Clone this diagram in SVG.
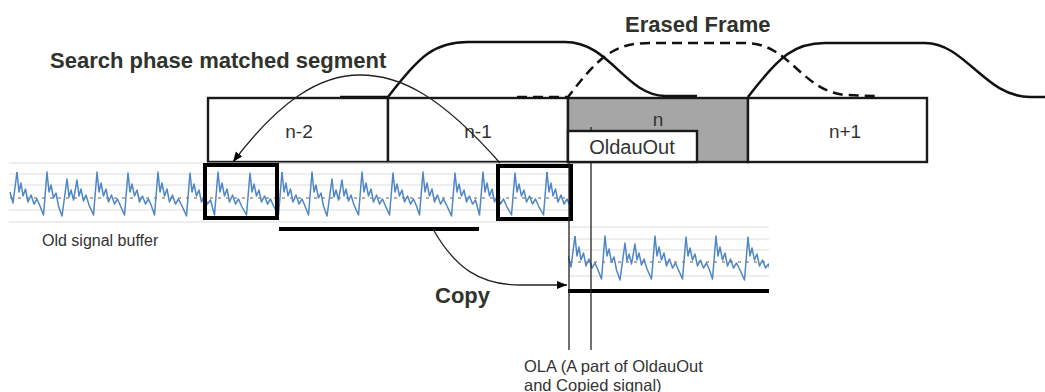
<svg xmlns="http://www.w3.org/2000/svg" width="1045" height="392" viewBox="0 0 1045 392">
<style>
.frame{fill:#fff;stroke:#1a1a1a;stroke-width:2.4}
.lbl{font-family:"Liberation Sans",Arial,sans-serif;fill:#333}
.bold{font-family:"Liberation Sans",Arial,sans-serif;font-weight:bold;fill:#2f332c;font-size:22px}
.grid{stroke:#dcdcdc;stroke-width:1}
.dot{stroke:#b8ad9c;stroke-width:2;stroke-dasharray:3 5}
.wave{fill:none;stroke:#4f86c6;stroke-width:1.5;stroke-linejoin:round}
.win{fill:none;stroke:#111;stroke-width:2.5}
.thin{fill:none;stroke:#222;stroke-width:1.3}
.thick{fill:none;stroke:#000;stroke-width:4}
</style>
<defs>
<marker id="ah" markerUnits="userSpaceOnUse" markerWidth="11" markerHeight="9" refX="10" refY="4" orient="auto">
<path d="M0,0 L10,4 L0,8 z" fill="#000"/>
</marker>
<path id="seg" class="wave" d="M0,-26 L2,-6 L4,-15 L6,-2 L8.5,-9 L11,4 L14,-3 L17,6 L20,1 L23,8 L26.5,17 L30,-26 L32,-6 L34,-13 L36.5,0 L39,-5 L41.5,8 L45,18 L50,-19 L52,-1 L54,-8 L56.5,2 L60,-18 L62,-2 L64,-9 L66.5,3 L69,-3 L72,7 L76.5,17 L80,-26 L82,-6 L84,-15 L86.5,-2 L89,-9 L91.5,4 L94.5,-3 L97.5,6 L100.5,1 L103.5,8 L107.5,17 L111,-25 L113,-6 L115,-14 L117.5,-2 L120,-8 L122.5,4 L125.5,-2 L128.5,6 L131.5,1 L134.5,8 L137.5,17 L141,-26 L143,-6 L145,-15 L147.5,-2 L150,-9 L152.5,4 L155.5,-3 L158.5,6 L161.5,1 L165,8 L169.5,18 L173,-25 L175,-6 L177,-14 L179.5,-2 L182,-8 L184.5,4 L187.5,-2 L190.5,6 L193.5,2 L197.5,17 L201,-26 L203,-6 L205,-15 L207.5,-2 L210,-9 L212.5,4 L215.5,-3 L218.5,6 L221.5,1 L224.5,8 L229.5,17 L233,-25 L235,-6 L237,-14 L239.5,-2 L242,-8 L244.5,4 L247.5,-2 L250.5,6 L253.5,1 L256.5,8 L261.5,17 L265,-26"/>
<clipPath id="c1"><rect x="9" y="150" width="561" height="80"/></clipPath>
<clipPath id="c2"><rect x="568" y="215" width="201" height="72"/></clipPath>
</defs>
<rect width="1045" height="392" fill="#fff"/>

<g id="frames">
<rect class="frame" x="208" y="98" width="180" height="64"/>
<rect class="frame" x="388" y="98" width="180" height="64"/>
<rect class="frame" x="568" y="98" width="180" height="64" style="fill:#a6a6a6"/>
<rect class="frame" x="748" y="98" width="179" height="64"/>
<text class="lbl" x="299" y="138" font-size="19" text-anchor="middle">n-2</text>
<text class="lbl" x="478" y="138" font-size="19" text-anchor="middle">n-1</text>
<text class="lbl" x="658" y="126" font-size="19" text-anchor="middle">n</text>
<text class="lbl" x="845" y="138" font-size="19" text-anchor="middle">n+1</text>
</g>

<g id="strip1">
<g clip-path="url(#c1)">
<line class="grid" x1="9" y1="163" x2="570" y2="163"/>
<line class="grid" x1="9" y1="174" x2="570" y2="174"/>
<line class="grid" x1="9" y1="185" x2="570" y2="185"/>
<line class="grid" x1="9" y1="210" x2="570" y2="210"/>
<line class="grid" x1="9" y1="222" x2="570" y2="222"/>
<line class="dot" x1="10" y1="198" x2="570" y2="198"/>
<path class="wave" d="M10,192 L13,203 L17,172"/>
<use href="#seg" x="17" y="198"/>
<use href="#seg" x="282" y="198"/>
<use href="#seg" x="547" y="198"/>
</g>
<text class="lbl" x="42" y="246" font-size="16" fill="#404040">Old signal buffer</text>
<line class="thick" x1="279" y1="229" x2="479" y2="229" stroke-width="3.5"/>
</g>

<g id="match-box"><rect class="thick" x="205" y="165" width="72" height="53"/></g>
<g id="search-box"><rect class="thick" x="498" y="166" width="73" height="53"/></g>

<g id="strip2">
<g clip-path="url(#c2)">
<line class="grid" x1="568" y1="227" x2="769" y2="227"/>
<line class="grid" x1="568" y1="239" x2="769" y2="239"/>
<line class="grid" x1="568" y1="250" x2="769" y2="250"/>
<line class="grid" x1="568" y1="276" x2="769" y2="276"/>
<line class="dot" x1="570" y1="262" x2="769" y2="262"/>
<path class="wave" d="M568,256 L571,267 L575,236"/>
<use href="#seg" x="575" y="262"/>
</g>
<line class="thick" x1="568" y1="291" x2="769" y2="291"/>
</g>

<g id="ola-lines">
<line class="thin" x1="569" y1="162" x2="569" y2="350"/>
<line class="thin" x1="591" y1="127" x2="591" y2="350"/>
<text class="lbl" x="524" y="372" font-size="16.5" fill="#404040">OLA (A part of OldauOut</text>
<text class="lbl" x="524" y="391" font-size="16.5" fill="#404040">and Copied signal)</text>
</g>

<g id="oldauout">
<rect class="frame" x="568" y="131" width="129" height="31"/>
<text class="lbl" x="632" y="154" font-size="20" text-anchor="middle">OldauOut</text>
</g>

<g id="windows">
<path class="win" d="M340,97 L388,97 C420,55 435,42 468,42 L565,42 C610,42 625,95 665,96 L697,96"/>
<path class="win" stroke-dasharray="10 6" d="M517,97 L568,97 C600,55 615,43 650,43 L745,43 C790,43 800,90 845,95 L875,96"/>
<path class="win" d="M748,97 C780,55 795,43 825,43 L925,43 C965,43 985,97 1030,97 L1045,97"/>
</g>

<g id="labels">
<text class="bold" x="50" y="68">Search phase matched segment</text>
<text class="bold" x="625" y="32">Erased Frame</text>
<text class="bold" x="435" y="303">Copy</text>
</g>

<g id="connectors">
<path class="thin" marker-end="url(#ah)" d="M500,163 C440,95 400,75 360,75 C320,75 280,100 233,162"/>
<path class="thin" marker-end="url(#ah)" d="M433,229 C455,268 480,285 520,285 L567,285"/>
</g>
</svg>
